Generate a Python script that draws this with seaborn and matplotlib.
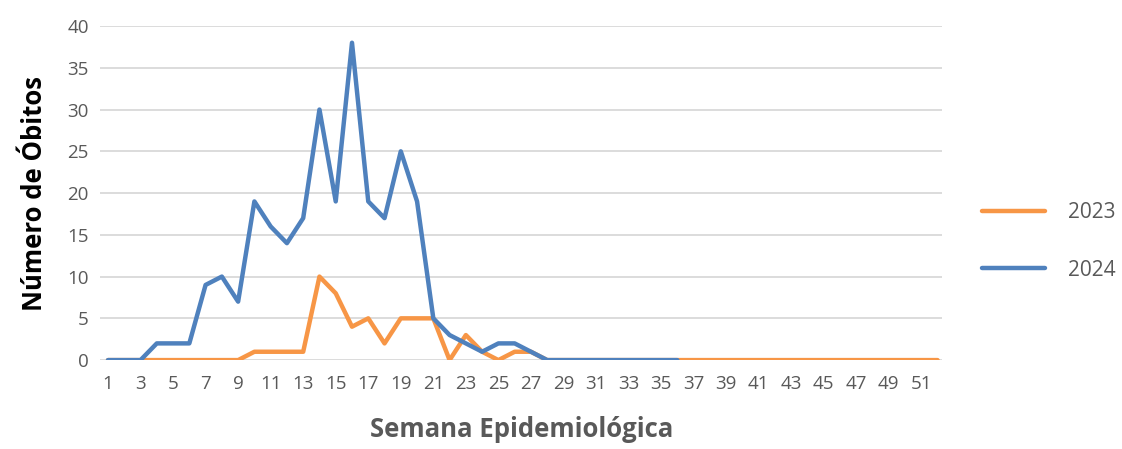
import pandas as pd
import matplotlib.pyplot as plt
import seaborn as sns

semanas_2023 = list(range(1, 53))
obitos_2023 = [0, 0, 0, 0, 0, 0, 0, 0, 0, 1,
               1, 1, 1, 10, 8, 4, 5, 2, 5, 5,
               5, 0, 3, 1, 0, 1, 1, 0, 0, 0,
               0, 0, 0, 0, 0, 0, 0, 0, 0, 0,
               0, 0, 0, 0, 0, 0, 0, 0, 0, 0,
               0, 0]

semanas_2024 = list(range(1, 37))
obitos_2024 = [0, 0, 0, 2, 2, 2, 9, 10, 7, 19,
               16, 14, 17, 30, 19, 38, 19, 17, 25, 19,
               5, 3, 2, 1, 2, 2, 1, 0, 0, 0,
               0, 0, 0, 0, 0, 0]

anos = ["2023", "2024"]
cores = ["#F79646", "#4F81BD"]

df = pd.concat([
    pd.DataFrame({"semana": semanas_2023, "obitos": obitos_2023, "ano": anos[0]}),
    pd.DataFrame({"semana": semanas_2024, "obitos": obitos_2024, "ano": anos[1]}),
])

sns.set_style("white")
plt.rcParams["font.family"] = ["Open Sans", "DejaVu Sans"]

fig = plt.figure(figsize=(11.22, 4.49), dpi=100)
ax = fig.add_axes([0.089, 0.198, 0.751, 0.744])

sns.lineplot(
    data=df, x="semana", y="obitos", hue="ano",
    hue_order=anos, palette=cores, linewidth=3.2, ax=ax
)

ax.set_xlim(0.5, 52.3)
ax.set_ylim(0, 40)
ax.set_yticks(range(0, 41, 5))
ax.set_xticks(range(1, 52, 2))
ax.yaxis.grid(True, color="#D9D9D9", linewidth=1.3)
ax.set_axisbelow(True)
for s in ax.spines.values():
    s.set_visible(False)
ax.tick_params(axis="both", length=0, labelsize=13.5, colors="#595959")
ax.tick_params(axis="x", pad=11)
ax.tick_params(axis="y", pad=8)

ax.set_xlabel("Semana Epidemiológica", fontsize=18.5, fontweight="bold",
              color="#595959", labelpad=16)
ax.set_ylabel("Número de Óbitos", fontsize=18.5, fontweight="bold",
              color="black", labelpad=14)

leg = ax.legend(
    loc="center left", bbox_to_anchor=(1.025, 0.355), frameon=False,
    fontsize=15, handlelength=3.0, labelspacing=1.75, handletextpad=1.1
)
for t in leg.get_texts():
    t.set_color("#595959")

fig.savefig("out.png", dpi=100)
